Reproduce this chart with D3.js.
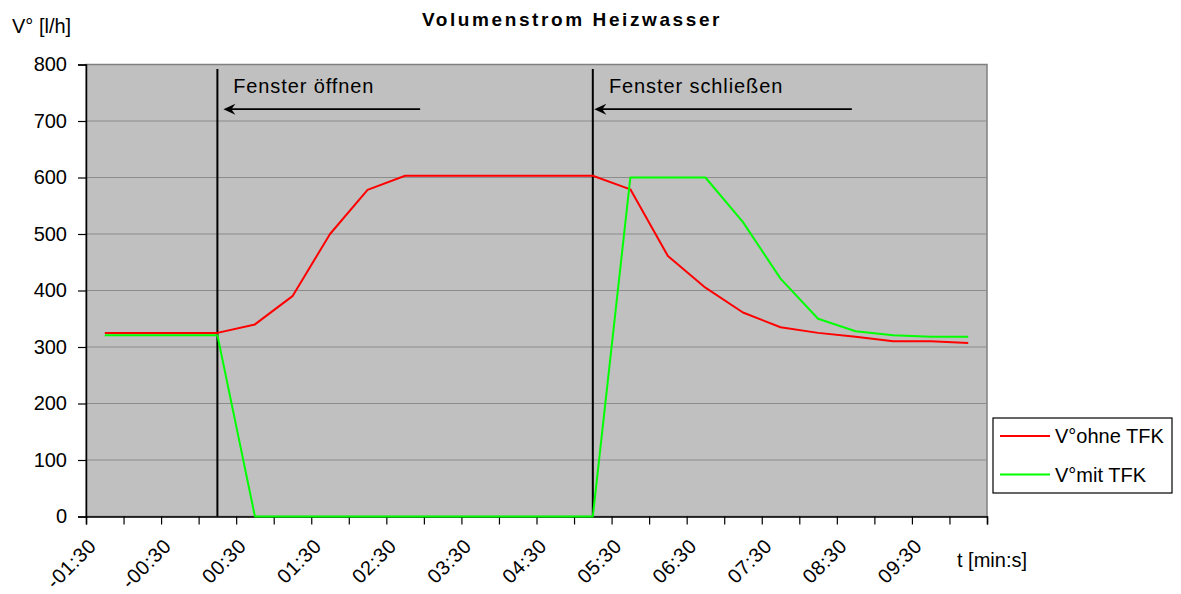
<!DOCTYPE html>
<html>
<head>
<meta charset="utf-8">
<script src="https://cdn.jsdelivr.net/npm/d3@7"></script>
<style>
  html, body { margin: 0; padding: 0; background: #fff; }
  svg { display: block; }
  text { font-family: "Liberation Sans", Arial, sans-serif; fill: #000; }
</style>
</head>
<body>
<svg id="chart" width="1181" height="594"></svg>
<script>
// ---- data ----
const categories = ["-01:30","-01:00","-00:30","00:00","00:30","01:00","01:30","02:00","02:30","03:00","03:30","04:00",
                    "04:30","05:00","05:30","06:00","06:30","07:00","07:30","08:00","08:30","09:00","09:30","10:00"];
const tickLabels = ["-01:30","-00:30","00:30","01:30","02:30","03:30","04:30","05:30","06:30","07:30","08:30","09:30"];
const ohneTFK = [325,325,325,325,340,390,500,578,603,603,603,603,603,603,579,461,405,361,335,325,318,310,310,307];
const mitTFK  = [321,321,321,321,0,0,0,0,0,0,0,0,0,0,600,600,600,521,421,350,328,321,318,318];
const yTicks = [0,100,200,300,400,500,600,700,800];
const seriesNames = ["V°ohne TFK", "V°mit TFK"];
const seriesColors = ["#ff0000", "#00ff00"];
const markerCats = ["00:00", "05:00"];          // vertical event lines
const markerTop = 792;
const annotations = [
  { text: "Fenster öffnen",   at: 3.42,  value: 750, arrowFrom: 8.4,  arrowTo: 3.16, arrowValue: 721 },
  { text: "Fenster schließen", at: 13.43, value: 750, arrowFrom: 19.9, arrowTo: 13.04, arrowValue: 721 }
];
const title = "Volumenstrom Heizwasser";
const yTitle = "V° [l/h]";
const xTitle = "t [min:s]";

// ---- layout ----
const pL = 86, pR = 987, pT = 64.5, pB = 516.5;
const svg = d3.select("#chart");

const x = d3.scaleBand().domain(categories).range([pL, pR]).padding(0);
const xIdx = d3.scaleLinear().domain([0, categories.length]).range([pL, pR]);
const cx = i => xIdx(i + 0.5);
const y = d3.scaleLinear().domain([0, 800]).range([pB, pT]);

// plot background
svg.append("rect").attr("x", pL).attr("y", pT).attr("width", pR - pL).attr("height", pB - pT)
  .attr("fill", "#c0c0c0").attr("stroke", "#808080").attr("stroke-width", 1.5);

// gridlines
svg.append("g").selectAll("line").data(yTicks.filter(d => d > 0 && d < 800)).join("line")
  .attr("x1", pL).attr("x2", pR).attr("y1", d => y(d)).attr("y2", d => y(d))
  .attr("stroke", "#8c8c8c").attr("stroke-width", 1.2);

// y axis
const yAxis = svg.append("g").attr("transform", `translate(${pL},0)`)
  .call(d3.axisLeft(y).tickValues(yTicks).tickSize(8).tickPadding(11));
yAxis.select(".domain").attr("stroke", "#000").attr("stroke-width", 1.5);
yAxis.selectAll(".tick line").attr("stroke", "#000").attr("stroke-width", 1.2);
yAxis.selectAll(".tick text").attr("font-size", 20).attr("font-family", '"Liberation Sans", Arial, sans-serif').attr("fill", "#000");

// x axis ticks (category boundaries)
const xAxis = svg.append("g").attr("transform", `translate(0,${pB})`)
  .call(d3.axisBottom(xIdx).tickValues(d3.range(categories.length + 1)).tickSize(8).tickFormat(""));
xAxis.select(".domain").attr("stroke", "#000").attr("stroke-width", 1.5);
xAxis.selectAll(".tick line").attr("stroke", "#000").attr("stroke-width", 1.2);

// x labels (rotated)
svg.append("g").selectAll("text").data(tickLabels).join("text")
  .attr("transform", d => `translate(${x(d) + x.bandwidth() / 2 - 11},${pB + 27}) rotate(-45)`)
  .attr("text-anchor", "end").attr("dominant-baseline", "middle")
  .attr("font-size", 20).attr("letter-spacing", 0.6).text(d => d);

// event lines
svg.append("g").selectAll("line").data(markerCats).join("line")
  .attr("x1", d => x(d) + x.bandwidth() / 2).attr("x2", d => x(d) + x.bandwidth() / 2)
  .attr("y1", y(markerTop)).attr("y2", y(0))
  .attr("stroke", "#000").attr("stroke-width", 2);

// series lines
const line = d3.line().x((d, i) => cx(i)).y(d => y(d));
[ohneTFK, mitTFK].forEach((s, k) => {
  svg.append("path").datum(s).attr("d", line).attr("fill", "none")
    .attr("stroke", seriesColors[k]).attr("stroke-width", 2).attr("stroke-linejoin", "round");
});

// annotations
const ann = svg.append("g");
annotations.forEach(a => {
  const ax1 = cx(a.arrowFrom), ax2 = cx(a.arrowTo), ay = y(a.arrowValue);
  ann.append("line").attr("x1", ax1).attr("x2", ax2 + 6).attr("y1", ay).attr("y2", ay)
    .attr("stroke", "#000").attr("stroke-width", 1.6);
  ann.append("path")
    .attr("d", `M${ax2},${ay} L${ax2 + 12},${ay - 5.5} L${ax2 + 8},${ay} L${ax2 + 12},${ay + 5.5} Z`)
    .attr("fill", "#000");
  ann.append("text").attr("x", cx(a.at)).attr("y", y(a.value))
    .attr("font-size", 20).attr("letter-spacing", 0.9).text(a.text);
});

// titles
svg.append("text").attr("x", 572).attr("y", 26).attr("text-anchor", "middle")
  .attr("font-size", 19).attr("font-weight", "bold").attr("letter-spacing", 2.6).text(title);
svg.append("text").attr("x", 12).attr("y", 33).attr("font-size", 20).text(yTitle);
svg.append("text").attr("x", 957).attr("y", 567).attr("font-size", 20).text(xTitle);

// legend
const lg = svg.append("g");
lg.append("rect").attr("x", 993).attr("y", 418).attr("width", 179).attr("height", 75)
  .attr("fill", "#fff").attr("stroke", "#000").attr("stroke-width", 1.2);
seriesNames.forEach((n, k) => {
  const ly = 436 + k * 38.5;
  lg.append("line").attr("x1", 1000).attr("x2", 1050).attr("y1", ly).attr("y2", ly)
    .attr("stroke", seriesColors[k]).attr("stroke-width", 2);
  lg.append("text").attr("x", 1055).attr("y", ly).attr("dominant-baseline", "central")
    .attr("font-size", 20).text(n);
});
</script>
</body>
</html>
